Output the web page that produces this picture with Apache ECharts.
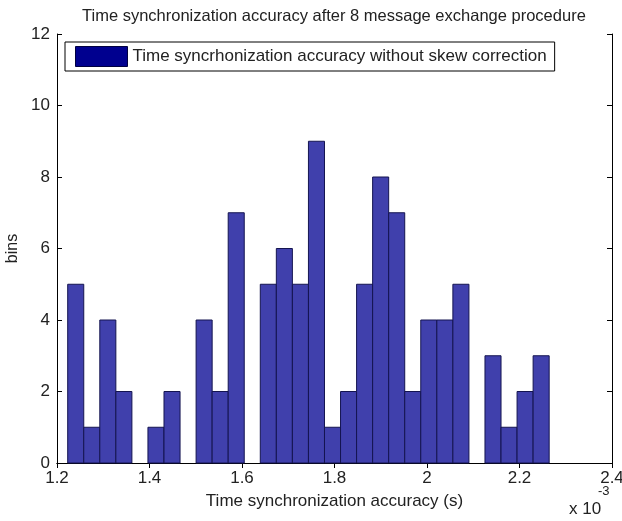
<!DOCTYPE html>
<html>
<head>
<meta charset="utf-8">
<script src="https://cdn.jsdelivr.net/npm/echarts@6/dist/echarts.min.js"></script>
<style>
  html, body { margin: 0; padding: 0; background: #fff; }
  #chart { width: 622px; height: 521px; }
</style>
</head>
<body>
<div id="chart"></div>
<script>
// Histogram bin centres (x 10^-3 s) and counts
const binCenters = [
  1.2405, 1.2752, 1.3099, 1.3446, 1.3793, 1.4140, 1.4487, 1.4834, 1.5181, 1.5528,
  1.5875, 1.6222, 1.6569, 1.6916, 1.7263, 1.7610, 1.7957, 1.8304, 1.8651, 1.8998,
  1.9345, 1.9692, 2.0039, 2.0386, 2.0733, 2.1080, 2.1427, 2.1774, 2.2121, 2.2468
];
const binCounts = [
  5, 1, 4, 2, 0, 1, 2, 0, 4, 2,
  7, 0, 5, 6, 5, 9, 1, 2, 5, 8,
  7, 2, 4, 4, 5, 0, 3, 1, 2, 3
];
const binWidth = 0.0347;
const xTicks = [1.2, 1.4, 1.6, 1.8, 2, 2.2, 2.4];
const yTicks = [0, 2, 4, 6, 8, 10, 12];

const seriesName = 'Time syncrhonization accuracy without skew correction';
const FONT = 'Liberation Sans, Arial, sans-serif';
const TXT = '#222';

const chart = echarts.init(document.getElementById('chart'), null, { renderer: 'canvas' });

const histData = binCenters.map((c, i) => [c, binCounts[i]]);

const tickStyle = { show: true, inside: true, length: 5, lineStyle: { color: '#000', width: 1 } };
const lineStyle = { show: true, lineStyle: { color: '#000', width: 1 } };

chart.setOption({
  animation: false,
  backgroundColor: '#fff',
  title: {
    text: 'Time synchronization accuracy after 8 message exchange procedure',
    left: 77,
    top: 3,
    textStyle: { fontFamily: FONT, fontSize: 16.5, fontWeight: 'normal', color: TXT }
  },
  legend: {
    left: 65,
    top: 42,
    padding: [4, 8, 4, 10],
    borderColor: '#000',
    borderWidth: 1,
    backgroundColor: '#fff',
    itemWidth: 52,
    itemHeight: 20,
    itemGap: 4,
    icon: 'rect',
    textStyle: { fontFamily: FONT, fontSize: 17, color: TXT },
    data: [{ name: seriesName, itemStyle: { color: '#00008f', borderColor: '#000040', borderWidth: 1 } }]
  },
  grid: { left: 57, right: 10, top: 34, bottom: 58, containLabel: false, outerBoundsMode: 'none' },
  xAxis: [
    {
      type: 'value', min: xTicks[0], max: xTicks[xTicks.length - 1], interval: 0.2,
      position: 'bottom',
      axisLine: lineStyle, axisTick: tickStyle, splitLine: { show: false },
      axisLabel: { fontFamily: FONT, fontSize: 17, color: TXT, margin: 7,
                   formatter: v => String(+v.toFixed(1)) },
      name: 'Time synchronization accuracy (s)',
      nameLocation: 'middle', nameGap: 30,
      nameTextStyle: { fontFamily: FONT, fontSize: 17, color: TXT }
    },
    {
      type: 'value', min: xTicks[0], max: xTicks[xTicks.length - 1], interval: 0.2,
      position: 'top',
      axisLine: lineStyle, axisTick: tickStyle, splitLine: { show: false },
      axisLabel: { show: false }
    }
  ],
  yAxis: [
    {
      type: 'value', min: yTicks[0], max: yTicks[yTicks.length - 1], interval: 2,
      position: 'left',
      axisLine: lineStyle, axisTick: tickStyle, splitLine: { show: false },
      axisLabel: { fontFamily: FONT, fontSize: 17, color: TXT, margin: 7 },
      name: 'bins', nameLocation: 'middle', nameRotate: 90, nameGap: 34,
      nameTextStyle: { fontFamily: FONT, fontSize: 16, color: TXT }
    },
    {
      type: 'value', min: yTicks[0], max: yTicks[yTicks.length - 1], interval: 2,
      position: 'right',
      axisLine: lineStyle, axisTick: tickStyle, splitLine: { show: false },
      axisLabel: { show: false }
    }
  ],
  series: [{
    name: seriesName,
    type: 'custom',
    xAxisIndex: 0,
    yAxisIndex: 0,
    data: histData,
    encode: { x: 0, y: 1 },
    renderItem: function (params, api) {
      const c = api.value(0), n = api.value(1);
      if (!n) return null;
      const p0 = api.coord([c - binWidth / 2, n]);
      const p1 = api.coord([c + binWidth / 2, 0]);
      return {
        type: 'rect',
        shape: { x: p0[0], y: p0[1], width: p1[0] - p0[0], height: p1[1] - p0[1] },
        style: { fill: '#4040ac', stroke: '#141450', lineWidth: 1 }
      };
    },
    itemStyle: { color: '#4040ac' }
  }],
  graphic: [
    {
      type: 'text', left: 569, top: 501,
      style: { text: 'x 10', fontFamily: FONT, fontSize: 17, fill: TXT }
    },
    {
      type: 'text', left: 598, top: 485,
      style: { text: '-3', fontFamily: FONT, fontSize: 13, fill: TXT }
    }
  ]
});
</script>
</body>
</html>
